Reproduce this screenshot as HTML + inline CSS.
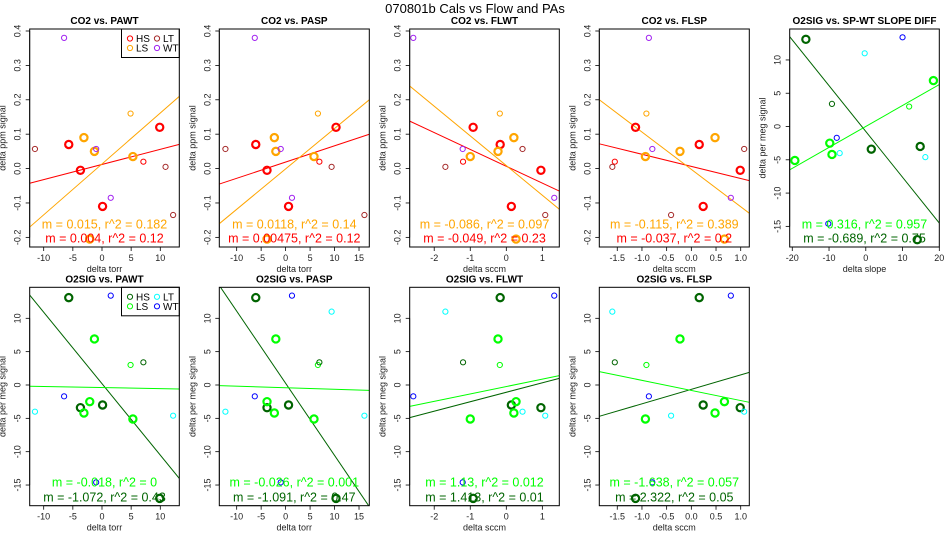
<!DOCTYPE html>
<html><head><meta charset="utf-8"><style>
body{margin:0;background:#fff;}
svg{display:block;font-family:"Liberation Sans",sans-serif;}
</style></head><body>
<svg id="chart" width="950" height="550" viewBox="0 0 950 550">
<text x="475" y="13" text-anchor="middle" font-size="13">070801b   Cals vs Flow and PAs</text>
</svg>
<script>
// sample categories: 'HS','LS' (thick) ; 'hs','ls' thin versions ; 'LT','WT'
const sampleCats = ['HS','HS','HS','HS','LS','LS','LS','LS','ls','hs','LT','LT','LT','WT','WT','WT'];
const co2Values = [0.07,-0.005,-0.11,0.12,0.09,0.05,0.035,-0.205,0.16,0.02,0.057,0.005,-0.135,0.38,0.057,-0.085];
const o2Values = [13.1,-3.4,-3.0,-17,-4.2,6.9,-5.1,-2.5,3.0,3.4,-4.0,11.0,-4.6,-1.7,-14.6,13.4];
const xPAWT = [-5.7,-3.7,0.1,9.9,-3.1,-1.3,5.3,-2.1,4.9,7.1,-11.5,10.9,12.2,-6.5,-1.0,1.5];
const xPASP = [-6.1,-3.8,0.6,10.3,-2.3,-2.0,5.8,-3.8,6.6,6.9,-12.3,9.4,16.1,-6.3,-1.0,1.3];
const xFLWT = [-0.17,0.96,0.14,-0.92,0.21,-0.23,-1.0,0.27,-0.18,-1.2,0.45,-1.69,1.08,-2.58,-1.21,1.33];
const xFLSP = [0.16,0.99,0.24,-1.13,0.48,-0.23,-0.93,0.67,-0.91,-1.55,1.07,-1.6,-0.41,-0.86,-0.79,0.8];
const xSlopeDiffO2 = [-16.3,1.5,14.8,14,-9.2,18.4,-19.3,-9.8,11.8,-9.2,-7.1,-0.3,16.2,-7.9,-10.2,10];
const fitSlopes = [[0.0044,0.0148],[0.00473,0.01175],[-0.049,-0.0863],[-0.0352,-0.1086],[-0.688,0.3145],[-1.072,-0.0156],[-1.082,-0.0228],[1.42,1.108],[2.17,-1.514]];
const fitIntercepts = [[0.012,0.0135],[0.019,-0.001],[0.0067,0.0087],[0.0064,-0.0024],[-0.74,0.01],[0.2,-0.39],[0.26,-0.41],[-1.09,-0.23],[-0.65,-0.82]];
const annot1 = ['m = 0.015, r^2 = 0.182','m = 0.0118, r^2 = 0.14','m = -0.086, r^2 = 0.097','m = -0.115, r^2 = 0.389','m = 0.316, r^2 = 0.957','m = -0.018, r^2 = 0','m = -0.026, r^2 = 0.001','m = 1.13, r^2 = 0.012','m = -1.638, r^2 = 0.057'];
const annot2 = ['m = 0.004, r^2 = 0.12','m = 0.00475, r^2 = 0.12','m = -0.049, r^2 = 0.23','m = -0.037, r^2 = 0.2','m = -0.689, r^2 = 0.75','m = -1.072, r^2 = 0.43','m = -1.091, r^2 = 0.47','m = 1.413, r^2 = 0.01','m = 2.322, r^2 = 0.05'];
const titles = ['CO2 vs. PAWT','CO2 vs. PASP','CO2 vs. FLWT','CO2 vs. FLSP','O2SIG vs. SP-WT SLOPE DIFF','O2SIG vs. PAWT','O2SIG vs. PASP','O2SIG vs. FLWT','O2SIG vs. FLSP'];
const xTicksTorr = [-10,-5,0,5,10];
const xTicksTorr2 = [-10,-5,0,5,10,15];
const xTicksSccm = [-2,-1,0,1];
const xTicksSccm2 = [-1.5,-1.0,-0.5,0.0,0.5,1.0];
const xTicksSlope = [-20,-10,0,10,20];
const yTicksCO2 = [-0.2,-0.1,0.0,0.1,0.2,0.3,0.4];
const yTicksO2 = [-15,-10,-5,0,5,10];

const NS='http://www.w3.org/2000/svg';
const svg=document.getElementById('chart');
function mk(tag,attrs,parent){const e=document.createElementNS(NS,tag);for(const k in attrs)e.setAttribute(k,attrs[k]);(parent||svg).appendChild(e);return e;}

const colsTop={HS:'#ff0000',hs:'#ff0000',LS:'#ffa500',ls:'#ffa500',LT:'#a52a2a',WT:'#a020f0'};
const colsBot={HS:'#006400',hs:'#006400',LS:'#00ff00',ls:'#00ff00',LT:'#00ffff',WT:'#0000ff'};

const XL=[[29.7,179.3],[219.3,369.3],[409.7,559.3],[599.3,749.3],[789.7,939.3]];
const panels=[
 {col:0,top:true,xs:xPAWT,xr:[-12.4,13.26],ticks:xTicksTorr,xlab:'delta torr',legend:true},
 {col:1,top:true,xs:xPASP,xr:[-13.55,17.1],ticks:xTicksTorr2,xlab:'delta torr'},
 {col:2,top:true,xs:xFLWT,xr:[-2.68,1.47],ticks:xTicksSccm,xlab:'delta sccm'},
 {col:3,top:true,xs:xFLSP,xr:[-1.864,1.174],ticks:xTicksSccm2,xlab:'delta sccm',dec:true},
 {col:4,top:true,o2:true,xs:xSlopeDiffO2,xr:[-20.7,20],ticks:xTicksSlope,xlab:'delta slope'},
 {col:0,top:false,o2:true,xs:xPAWT,xr:[-12.4,13.26],ticks:xTicksTorr,xlab:'delta torr',legend:true},
 {col:1,top:false,o2:true,xs:xPASP,xr:[-13.55,17.1],ticks:xTicksTorr2,xlab:'delta torr'},
 {col:2,top:false,o2:true,xs:xFLWT,xr:[-2.68,1.47],ticks:xTicksSccm,xlab:'delta sccm'},
 {col:3,top:false,o2:true,xs:xFLSP,xr:[-1.864,1.174],ticks:xTicksSccm2,xlab:'delta sccm',dec:true}
];

panels.forEach((p,i)=>{
  const [x0,x1]=XL[p.col];
  const y0=p.top?29:287.3, y1=p.top?247:505.7;
  const yr=p.o2?[-18.1,14.65]:[-0.228,0.4058];
  const sx=v=>x0+(v-p.xr[0])/(p.xr[1]-p.xr[0])*(x1-x0);
  const sy=v=>y1-(v-yr[0])/(yr[1]-yr[0])*(y1-y0);
  const cols=p.o2?colsBot:colsTop;
  const ys=p.o2?o2Values:co2Values;
  const g=mk('g',{});
  
  
  const cp=mk('clipPath',{id:'cp'+i},g);mk('rect',{x:x0,y:y0,width:x1-x0,height:y1-y0},cp);
  const t=mk('text',{x:(x0+x1)/2,y:y0-5,'text-anchor':'middle','font-size':10,'font-weight':'bold'},g);t.textContent=titles[i];
  
  
  p.ticks.forEach(v=>{const x=sx(v);mk('line',{x1:x,x2:x,y1:y1,y2:y1+4,stroke:'#000','stroke-width':0.8},g);
    const tt=mk('text',{x:x,y:y1+14,'text-anchor':'middle','font-size':9,fill:'#222'},g);tt.textContent=p.dec?v.toFixed(1):String(v);
    
    });
  mk('line',{x1:sx(p.ticks[0]),x2:sx(p.ticks[p.ticks.length-1]),y1:y1,y2:y1,stroke:'#000','stroke-width':0.8},g);
  const xl=mk('text',{x:(x0+x1)/2,y:y1+25,'text-anchor':'middle','font-size':9,fill:'#222'},g);xl.textContent=p.xlab;
  
  
  const yt=p.o2?yTicksO2:yTicksCO2;
  yt.forEach(v=>{const y=sy(v);mk('line',{x1:x0-4,x2:x0,y1:y,y2:y,stroke:'#000','stroke-width':0.8},g);
    const tt=mk('text',{x:x0-9,y:y,'text-anchor':'middle','font-size':9,fill:'#222',transform:`rotate(-90 ${x0-9} ${y})`},g);tt.textContent=p.o2?String(v):v.toFixed(1);
    
    });
  mk('line',{x1:x0,x2:x0,y1:sy(yt[0]),y2:sy(yt[yt.length-1]),stroke:'#000','stroke-width':0.8},g);
  const yl=mk('text',{x:x0-24,y:(y0+y1)/2,'text-anchor':'middle','font-size':9,fill:'#222',transform:`rotate(-90 ${x0-24} ${(y0+y1)/2})`},g);yl.textContent=p.o2?'delta per meg signal':'delta ppm signal';
  
  
  const inner=mk('g',{'clip-path':`url(#cp${i})`},g);
  const lc=p.o2?['#006400','#00ff00']:['#ff0000','#ffa500'];
  [0,1].forEach(k=>{const m=fitSlopes[i][k],b=fitIntercepts[i][k];
    const ln=mk('line',{x1:sx(p.xr[0]),y1:sy(b+m*p.xr[0]),x2:sx(p.xr[1]),y2:sy(b+m*p.xr[1]),stroke:lc[k],'stroke-width':1},inner);
    
    });
  p.xs.forEach((xv,j)=>{const c=sampleCats[j];const thick=(c==='HS'||c==='LS');
    const ci=mk('circle',{cx:sx(xv),cy:sy(ys[j]),r:thick?3.6:2.6,fill:'none',stroke:cols[c],'stroke-width':thick?2.2:1},inner);
    
    });
  const ay1=p.top?224:482, ay2=p.top?238:497;
  const a1=mk('text',{x:(x0+x1)/2,y:ay1+4.5,'text-anchor':'middle','font-size':12.5,fill:lc[1]},g);a1.textContent=annot1[i];
  
  
  const a2=mk('text',{x:(x0+x1)/2,y:ay2+4.5,'text-anchor':'middle','font-size':12.5,fill:lc[0]},g);a2.textContent=annot2[i];
  
  
  if(p.legend){
    const lg=mk('g',{},g);
    
    
    mk('rect',{x:121.5,y:y0,width:x1-121.5,height:28.5,fill:'#fff',stroke:'#000','stroke-width':1},lg);
    [['HS',130,y0+9.5],['LS',130,y0+19],['LT',157,y0+9.5],['WT',157,y0+19]].forEach(([c,lx,ly])=>{
      mk('circle',{cx:lx,cy:ly,r:2.6,fill:'none',stroke:cols[c],'stroke-width':1},lg);
      const lt=mk('text',{x:lx+6,y:ly+3.5,'font-size':10},lg);lt.textContent=c;
      
      });
  }
  mk('rect',{x:x0,y:y0,width:x1-x0,height:y1-y0,fill:'none',stroke:'#000','stroke-width':1},g);
});
</script>
</body></html>
